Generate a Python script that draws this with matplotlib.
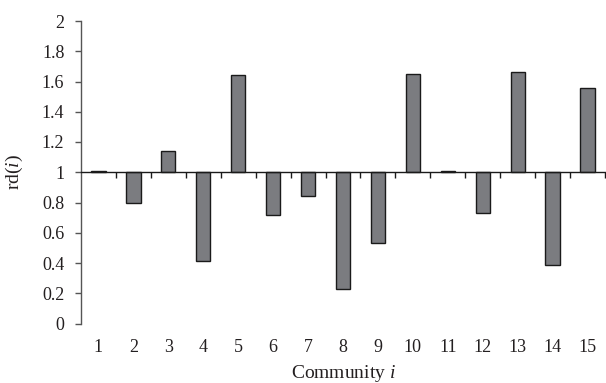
import matplotlib
matplotlib.use("Agg")
import matplotlib.pyplot as plt
import numpy as np

communities = list(range(1, 16))
rd_values = [1.005, 0.80, 1.14, 0.41, 1.64, 0.72, 0.84, 0.23, 0.53, 1.65, 1.01, 0.73, 1.66, 0.39, 1.56]
y_ticks = [0, 0.2, 0.4, 0.6, 0.8, 1, 1.2, 1.4, 1.6, 1.8, 2]
y_tick_labels = ["0", "0.2", "0.4", "0.6", "0.8", "1", "1.2", "1.4", "1.6", "1.8", "2"]
baseline = 1.0

plt.rcParams['font.family'] = ['Liberation Serif', 'DejaVu Serif']
plt.rcParams['mathtext.fontset'] = 'custom'
plt.rcParams['mathtext.rm'] = 'Liberation Serif'
plt.rcParams['mathtext.it'] = 'Liberation Serif:italic'

text_color = '#231f20'
fig = plt.figure(figsize=(6.06, 3.83), dpi=100)
ax = fig.add_axes([81/606, (383-323.5)/383, (605-81)/606, (323.5-21)/383])

heights = [v - baseline for v in rd_values]
ax.bar(communities, heights, bottom=baseline, width=0.41, color='#7b7c80',
       edgecolor='#1a1a1a', linewidth=1.0, zorder=2)

ax.set_xlim(0.5, 15.5)
ax.set_ylim(0, 2)

for s in ['top', 'right']:
    ax.spines[s].set_visible(False)
ax.spines['left'].set_color('#555555')
ax.spines['left'].set_linewidth(1.0)
ax.spines['bottom'].set_position(('data', baseline))
ax.spines['bottom'].set_color('#1a1a1a')
ax.spines['bottom'].set_linewidth(1.0)
ax.spines['bottom'].set_zorder(3)

ax.set_yticks(y_ticks)
ax.set_yticklabels(y_tick_labels)
ax.tick_params(axis='y', direction='out', length=4, width=1, color='#555555',
               labelsize=13, labelcolor=text_color, pad=8)

# separator ticks on the baseline axis
ax.set_xticks([c + 0.5 for c in communities])
ax.set_xticklabels([])
ax.tick_params(axis='x', direction='out', length=4, width=1, color='#1a1a1a')

# category labels at the bottom
sec = ax.secondary_xaxis(0)
sec.set_xticks(communities)
sec.set_xticklabels([str(c) for c in communities])
sec.tick_params(axis='x', length=0, labelsize=13, labelcolor=text_color, pad=11)
sec.spines['bottom'].set_visible(False)
sec.spines['top'].set_visible(False)

sec.set_xlabel(r'Community $\it{i}$', fontsize=14, color=text_color, labelpad=5)
ax.set_ylabel(r'rd($\it{i}$)', fontsize=14, color=text_color, labelpad=12)

fig.savefig('out.png', dpi=100)
